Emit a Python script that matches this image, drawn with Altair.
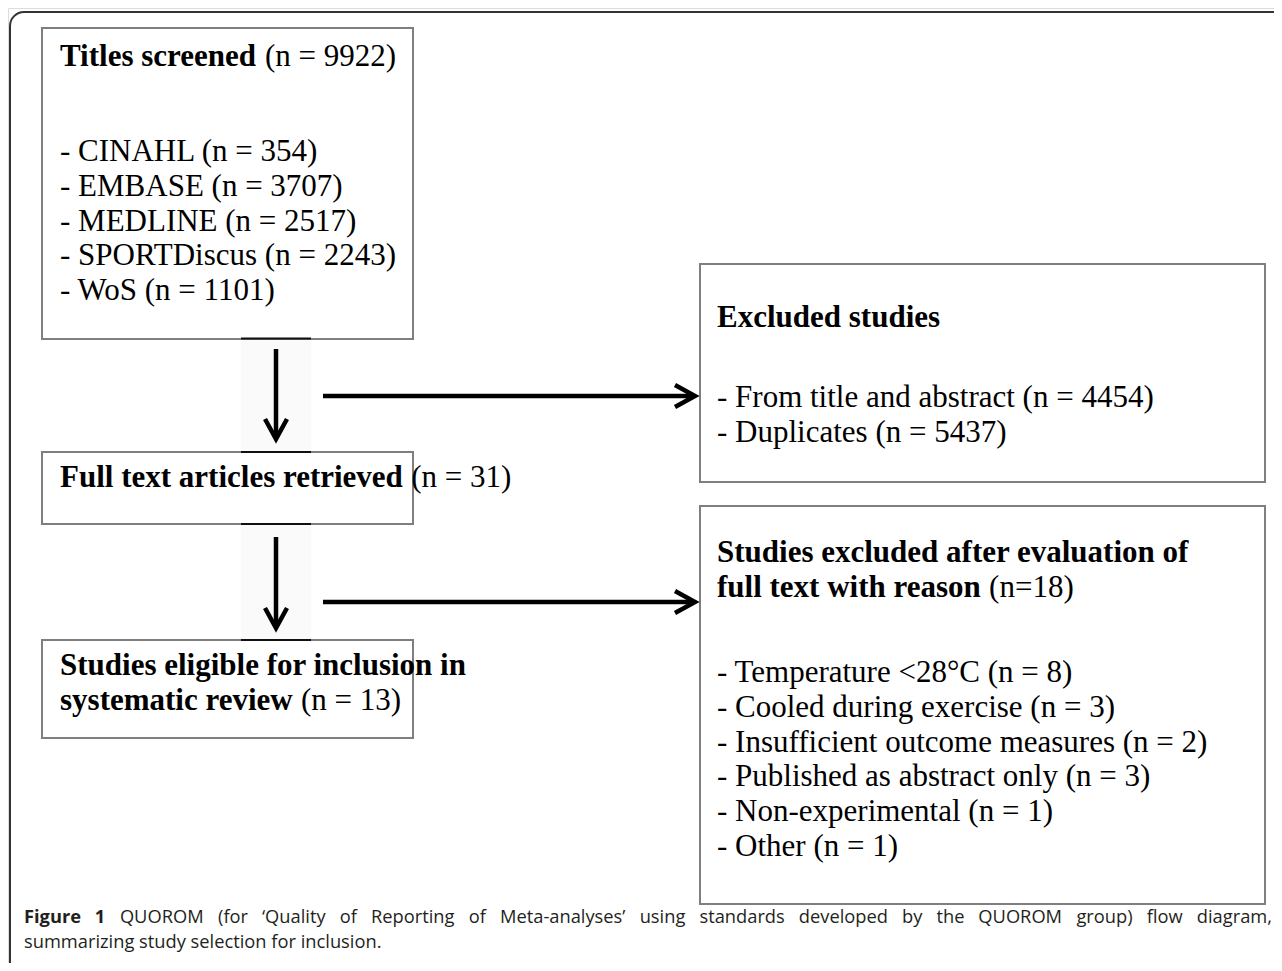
import altair as alt
import pandas as pd

# ---------------- data (text content of the flow diagram) ----------------
head_bold = ["Titles screened", "Full text articles retrieved",
             "Studies eligible for inclusion in", "systematic review",
             "Excluded studies", "Studies excluded after evaluation of",
             "full text with reason"]
head_count = ["(n = 9922)", "(n = 31)", "", "(n = 13)", "", "", "(n=18)"]
head_box = ["screened", "retrieved", "eligible", "eligible",
            "excluded", "fulltext", "fulltext"]
head_line = [0, 0, 0, 1, 0, 0, 1]

item_text = ["- CINAHL (n = 354)", "- EMBASE (n = 3707)", "- MEDLINE (n = 2517)",
             "- SPORTDiscus (n = 2243)", "- WoS (n = 1101)",
             "- From title and abstract (n = 4454)", "- Duplicates (n = 5437)",
             "- Temperature <28\u00b0C (n = 8)", "- Cooled during exercise (n = 3)",
             "- Insufficient outcome measures (n = 2)",
             "- Published as abstract only (n = 3)",
             "- Non-experimental (n = 1)", "- Other (n = 1)"]
item_box = ["screened"] * 5 + ["excluded"] * 2 + ["fulltext"] * 6
item_line = [0, 1, 2, 3, 4, 0, 1, 0, 1, 2, 3, 4, 5]

caption_bold_words = ["Figure", "1"]
caption_line1 = ("QUOROM (for \u2018Quality of Reporting of Meta-analyses\u2019 using standards "
                 "developed by the QUOROM group) flow diagram,")
caption_line2 = "summarizing study selection for inclusion."

# ---------------- layout (page pixel coordinates) ----------------
W, H = 1266, 955
FS = 31            # box text size
LS = 34.8          # line spacing
boxes = {          # x1, y1, x2, y2, text x, heading y, first item y
    "screened": (42, 28, 413, 339, 60, 57, 152),
    "retrieved": (42, 452, 413, 524, 60, 478, None),
    "eligible": (42, 640, 413, 738, 60, 666, None),
    "excluded": (700, 264, 1265, 482, 717, 318, 398),
    "fulltext": (700, 506, 1265, 904, 717, 553, 673),
}
CAP_FS = 18.3
CAP_X0, CAP_X1 = 24, 1272        # justified line extent
CAP_Y1, CAP_Y2 = 918, 943

# Times / Liberation Serif Bold advance widths (per 1000 em)
BOLD_W = {' ': 250, 'a': 500, 'b': 556, 'c': 444, 'd': 556, 'e': 444, 'f': 333,
          'g': 500, 'h': 556, 'i': 278, 'j': 333, 'k': 556, 'l': 278, 'm': 833,
          'n': 556, 'o': 500, 'p': 556, 'q': 556, 'r': 444, 's': 389, 't': 333,
          'u': 556, 'v': 500, 'w': 722, 'x': 500, 'y': 500, 'z': 444,
          'T': 667, 'F': 611, 'S': 556, 'E': 667}
# Open Sans Regular advance widths (per 2048 em), approximate
OS_W = {' ': 532, 'a': 1139, 'b': 1255, 'c': 975, 'd': 1255, 'e': 1149, 'f': 694,
        'g': 1122, 'h': 1257, 'i': 518, 'j': 518, 'k': 1075, 'l': 518, 'm': 1905,
        'n': 1257, 'o': 1237, 'p': 1255, 'q': 1255, 'r': 836, 's': 977, 't': 723,
        'u': 1257, 'v': 1026, 'w': 1593, 'x': 1073, 'y': 1028, 'z': 977,
        'F': 1057, 'M': 1849, 'O': 1593, 'Q': 1593, 'R': 1296, 'U': 1491,
        '(': 596, ')': 596, '\u2018': 358, '\u2019': 358, '-': 659, ',': 502,
        '.': 545, '1': 1171}


def bold_width(s):
    return sum(BOLD_W.get(ch, 500) for ch in s) * FS / 1000.0


def os_width(s, bold=False):
    w = sum(OS_W.get(ch, 1100) for ch in s) * CAP_FS / 2048.0
    return w * (1.07 if bold else 1.0)


box_df = pd.DataFrame([{"x": v[0], "y": v[1], "x2": v[2], "y2": v[3]} for v in boxes.values()])

heads_df = pd.DataFrame([{"x": boxes[b][4], "y": boxes[b][5] + ln * LS, "t": t}
                         for t, b, ln in zip(head_bold, head_box, head_line)])
counts_df = pd.DataFrame([{"x": boxes[b][4] + bold_width(t + " "), "y": boxes[b][5] + ln * LS, "t": c}
                          for t, c, b, ln in zip(head_bold, head_count, head_box, head_line) if c])
items_df = pd.DataFrame([{"x": boxes[b][4], "y": boxes[b][6] + ln * LS, "t": t}
                         for t, b, ln in zip(item_text, item_box, item_line)])

# justified first caption line, word by word
words = [(w, True) for w in caption_bold_words] + [(w, False) for w in caption_line1.split(" ")]
widths = [os_width(w, b) for w, b in words]
gap = (CAP_X1 - CAP_X0 - sum(widths)) / (len(words) - 1)
cap_rows, xpos = [], CAP_X0
for (w, b), wd in zip(words, widths):
    cap_rows.append({"x": xpos, "y": CAP_Y1, "t": w, "b": b})
    xpos += wd + gap
cap_rows.append({"x": CAP_X0, "y": CAP_Y2, "t": caption_line2, "b": False})
cap_bold_df = pd.DataFrame([r for r in cap_rows if r["b"]])
cap_reg_df = pd.DataFrame([r for r in cap_rows if not r["b"]])

# arrows: shafts and chevron heads
shafts_df = pd.DataFrame([
    {"x": 276, "y": 349, "x2": 276, "y2": 438},
    {"x": 323, "y": 396, "x2": 694, "y2": 396},
    {"x": 276, "y": 537, "x2": 276, "y2": 627},
    {"x": 323, "y": 602, "x2": 694, "y2": 602},
])
DOWN = "M -0.55 -1 L 0 0 L 0.55 -1"
RIGHT = "M -1 -0.55 L 0 0 L -1 0.55"
heads_arrow_df = pd.DataFrame([
    {"x": 276, "y": 439, "s": DOWN},
    {"x": 695, "y": 396, "s": RIGHT},
    {"x": 276, "y": 628, "s": DOWN},
    {"x": 695, "y": 602, "s": RIGHT},
])
shadow_df = pd.DataFrame([{"x": 241, "y": 339, "x2": 311, "y2": 452},
                          {"x": 241, "y": 524, "x2": 311, "y2": 640}])
dark_df = pd.DataFrame([{"x": 241, "x2": 311, "y": v} for v in (338.5, 452, 524, 640)])

frame_df = pd.DataFrame([{"x": 10, "y": 12, "x2": 1500, "y2": 1300}])

xs = alt.Scale(domain=[8, 8 + W], nice=False, zero=False)
ys = alt.Scale(domain=[8, 8 + H], nice=False, zero=False, reverse=True)
X = alt.X("x:Q", scale=xs, axis=None)
Y = alt.Y("y:Q", scale=ys, axis=None)

frame = alt.Chart(frame_df).mark_rect(cornerRadius=14, fillOpacity=0, stroke="#333333",
                                      strokeWidth=2).encode(x=X, y=Y, x2="x2:Q", y2="y2:Q")
rects = alt.Chart(box_df).mark_rect(fill="white", stroke="#7f7f7f", strokeWidth=2).encode(
    x=X, y=Y, x2="x2:Q", y2="y2:Q")
shadow = alt.Chart(shadow_df).mark_rect(fill="#fafafa").encode(x=X, y=Y, x2="x2:Q", y2="y2:Q")
dark = alt.Chart(dark_df).mark_rule(color="#111111", strokeWidth=2).encode(x=X, x2="x2:Q", y=Y)
shafts = alt.Chart(shafts_df).mark_rule(color="black", strokeWidth=4.5, strokeCap="butt").encode(
    x=X, y=Y, x2="x2:Q", y2="y2:Q")
arrowheads = alt.Chart(heads_arrow_df).mark_point(
    filled=False, color="black", strokeWidth=4.5, size=1600, opacity=1, strokeJoin="miter"
).encode(x=X, y=Y, shape=alt.Shape("s:N", scale=None))

serif = "Liberation Serif"
t_head = alt.Chart(heads_df).mark_text(align="left", baseline="middle", font=serif,
                                       fontSize=FS, fontWeight="bold", color="black"
                                       ).encode(x=X, y=Y, text="t:N")
t_count = alt.Chart(counts_df).mark_text(align="left", baseline="middle", font=serif,
                                         fontSize=FS, color="black"
                                         ).encode(x=X, y=Y, text="t:N")
t_items = alt.Chart(items_df).mark_text(align="left", baseline="middle", font=serif,
                                        fontSize=FS, color="black"
                                        ).encode(x=X, y=Y, text="t:N")
c_bold = alt.Chart(cap_bold_df).mark_text(align="left", baseline="middle", font="Open Sans",
                                          fontSize=CAP_FS, fontWeight="bold", color="#231f20"
                                          ).encode(x=X, y=Y, text="t:N")
c_reg = alt.Chart(cap_reg_df).mark_text(align="left", baseline="middle", font="Open Sans",
                                        fontSize=CAP_FS, fontWeight=500, color="#231f20"
                                        ).encode(x=X, y=Y, text="t:N")

chart = alt.layer(frame, shadow, rects, dark, shafts, arrowheads, t_head, t_count, t_items,
                  c_bold, c_reg).properties(
    width=W, height=H, padding=0, autosize=alt.AutoSizeParams(type="none")
).configure_view(strokeWidth=0).configure(background="white")

chart.save("out.html", embed_options={"renderer": "svg", "actions": False})
